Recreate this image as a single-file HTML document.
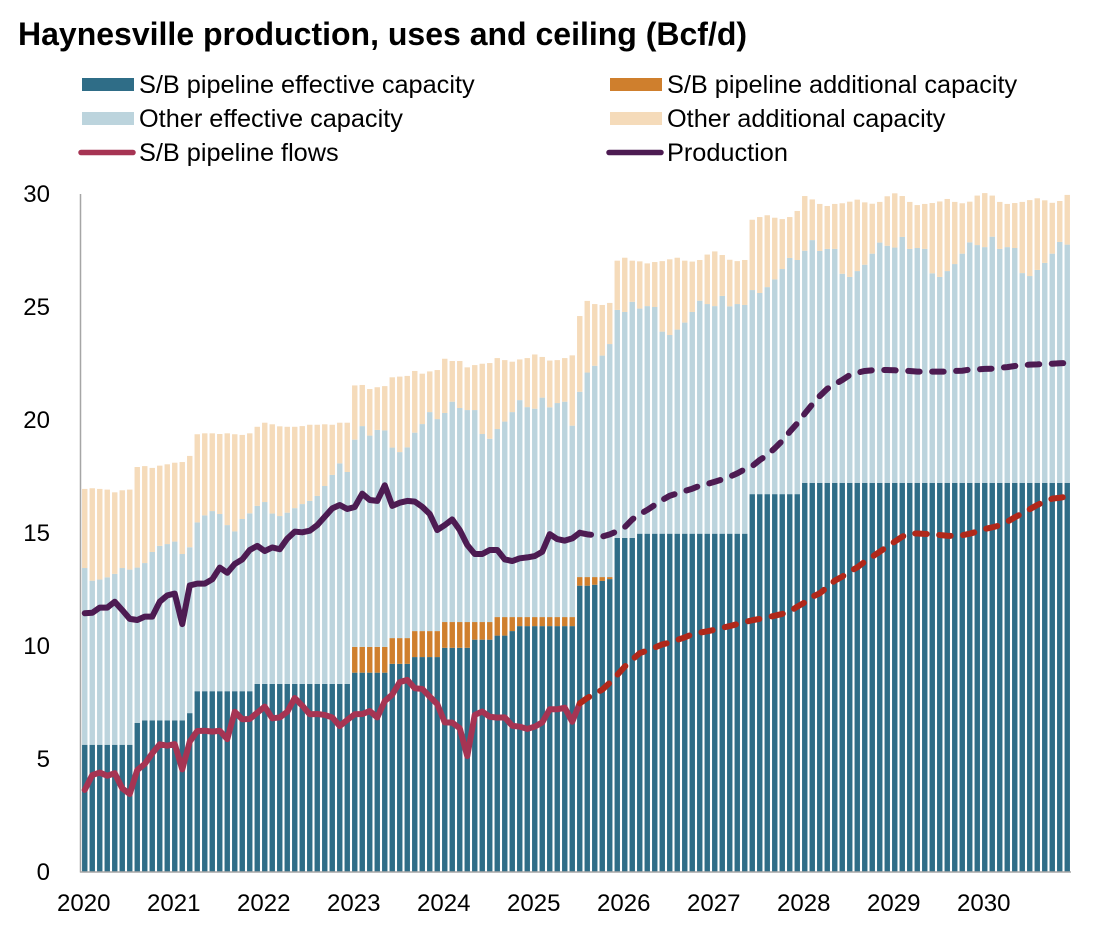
<!DOCTYPE html>
<html lang="en">
<head>
<meta charset="utf-8">
<title>Haynesville production, uses and ceiling</title>
<style>
html,body{margin:0;padding:0;background:#fff;}
svg{display:block;font-family:"Liberation Sans",Arial,sans-serif;fill:#000;}
</style>
</head>
<body>
<svg id="chart" width="1106" height="928" viewBox="0 0 1106 928" xmlns="http://www.w3.org/2000/svg">
  <text x="18" y="45" font-size="32" font-weight="bold">Haynesville production, uses and ceiling (Bcf/d)</text>

  <g font-size="25.3">
    <g>
      <rect x="82" y="78" width="52" height="13" fill="#2F6D87"/>
      <text x="139" y="93">S/B pipeline effective capacity</text>
    </g>
    <g>
      <rect x="82" y="112" width="52" height="13" fill="#BCD4DD"/>
      <text x="139" y="127">Other effective capacity</text>
    </g>
    <g>
      <line x1="81" y1="152.5" x2="133" y2="152.5" stroke="#A63453" stroke-width="5.5" stroke-linecap="round"/>
      <text x="139" y="161">S/B pipeline flows</text>
    </g>
    <g>
      <rect x="610" y="78" width="52" height="13" fill="#CF7F2D"/>
      <text x="667" y="93">S/B pipeline additional capacity</text>
    </g>
    <g>
      <rect x="610" y="112" width="52" height="13" fill="#F5DBBA"/>
      <text x="667" y="127">Other additional capacity</text>
    </g>
    <g>
      <line x1="609" y1="152.5" x2="661" y2="152.5" stroke="#4D1B52" stroke-width="5.5" stroke-linecap="round"/>
      <text x="667" y="161">Production</text>
    </g>
  </g>

  <g id="bars"></g>
  <g id="axes" font-size="24"></g>
  <g id="lines" fill="none"></g>
</svg>

<script>
// Category labels and tick values
const yearLabels = ["2020","2021","2022","2023","2024","2025","2026","2027","2028","2029","2030"];
const yTickValues = [0,5,10,15,20,25,30];
const monthsPerYear = 12;
const forecastStartMonth = 66;

// Stack levels (Bcf/d, monthly, cumulative top of each layer)
const sbEffectiveTop = [
5.63,5.63,5.63,5.63,5.63,5.63,5.63,6.6,6.71,6.71,6.71,6.71,
6.71,6.71,7.03,8,8,8,8,8,8,8,8,8.32,
8.32,8.32,8.32,8.32,8.32,8.32,8.32,8.32,8.32,8.32,8.32,8.32,
8.82,8.82,8.82,8.82,8.82,9.21,9.21,9.21,9.51,9.51,9.51,9.51,
9.92,9.92,9.92,9.92,10.28,10.28,10.28,10.46,10.46,10.66,10.88,10.88,
10.88,10.88,10.88,10.88,10.88,10.88,12.67,12.67,12.71,12.88,12.96,14.78,
14.78,14.78,14.97,14.97,14.97,14.97,14.97,14.97,14.97,14.97,14.97,14.97,
14.97,14.97,14.97,14.97,14.97,16.72,16.72,16.72,16.72,16.72,16.72,16.72,
17.22,17.22,17.22,17.22,17.22,17.22,17.22,17.22,17.22,17.22,17.22,17.22,
17.22,17.22,17.22,17.22,17.22,17.22,17.22,17.22,17.22,17.22,17.22,17.22,
17.22,17.22,17.22,17.22,17.22,17.22,17.22,17.22,17.22,17.22,17.22,17.22
];
const sbAdditionalTop = [
5.63,5.63,5.63,5.63,5.63,5.63,5.63,6.6,6.71,6.71,6.71,6.71,
6.71,6.71,7.03,8,8,8,8,8,8,8,8,8.32,
8.32,8.32,8.32,8.32,8.32,8.32,8.32,8.32,8.32,8.32,8.32,8.32,
9.96,9.96,9.96,9.96,9.96,10.35,10.35,10.35,10.66,10.66,10.66,10.66,
11.06,11.06,11.06,11.06,11.06,11.06,11.06,11.28,11.28,11.28,11.28,11.28,
11.28,11.28,11.28,11.28,11.28,11.28,13.05,13.05,13.05,13.05,13.05,14.78,
14.78,14.78,14.97,14.97,14.97,14.97,14.97,14.97,14.97,14.97,14.97,14.97,
14.97,14.97,14.97,14.97,14.97,16.72,16.72,16.72,16.72,16.72,16.72,16.72,
17.22,17.22,17.22,17.22,17.22,17.22,17.22,17.22,17.22,17.22,17.22,17.22,
17.22,17.22,17.22,17.22,17.22,17.22,17.22,17.22,17.22,17.22,17.22,17.22,
17.22,17.22,17.22,17.22,17.22,17.22,17.22,17.22,17.22,17.22,17.22,17.22
];
const otherEffectiveTop = [
13.45,12.89,12.94,13.04,13.19,13.45,13.38,13.47,13.67,14.16,14.43,14.51,
14.62,14.07,14.37,15.47,15.78,15.97,15.84,15.35,15.07,15.62,15.87,16.2,
16.37,15.86,15.75,15.9,16.1,16.28,16.42,16.64,17.08,17.57,18.08,17.7,
19.13,19.73,19.31,19.56,19.54,18.78,18.58,18.79,19.44,19.82,20.35,20.04,
20.31,20.81,20.53,20.44,20.44,19.38,19.17,19.6,19.93,20.35,20.88,20.57,
20.5,20.99,20.56,20.75,20.81,19.75,21.25,22.1,22.4,22.85,23.36,24.87,
24.78,25.23,24.93,25.04,25,23.91,23.76,24,24.31,24.78,25.28,25.13,
25.04,25.49,25.03,25.13,25.09,25.75,25.62,25.88,26.22,26.68,27.17,27.08,
27.49,27.96,27.48,27.57,27.57,26.47,26.33,26.59,26.87,27.36,27.85,27.71,
27.63,28.1,27.57,27.61,27.57,26.49,26.33,26.59,26.9,27.36,27.86,27.74,
27.65,28.11,27.57,27.65,27.61,26.5,26.37,26.64,26.95,27.36,27.88,27.76
];
const otherAdditionalTop = [
16.95,16.98,16.95,16.92,16.8,16.89,16.92,17.92,17.96,17.88,17.98,18.04,
18.11,18.14,18.41,19.37,19.41,19.41,19.38,19.41,19.37,19.34,19.41,19.7,
19.88,19.81,19.72,19.7,19.7,19.73,19.79,19.79,19.81,19.79,19.88,19.88,
21.53,21.55,21.37,21.45,21.5,21.89,21.92,21.95,22.17,22.05,22.15,22.21,
22.71,22.61,22.61,22.33,22.43,22.49,22.52,22.74,22.65,22.58,22.68,22.74,
22.9,22.79,22.63,22.65,22.74,22.86,24.6,25.27,25.13,25.09,25.18,27.05,
27.18,27.05,27.02,26.93,26.99,27.03,27.11,27.18,27.05,27.01,27.08,27.32,
27.46,27.3,27.09,27.03,27.08,28.86,28.98,29.06,28.95,28.89,28.98,29.25,
29.91,29.76,29.56,29.47,29.56,29.59,29.66,29.75,29.63,29.57,29.65,29.9,
30.03,29.91,29.65,29.51,29.56,29.6,29.67,29.78,29.65,29.59,29.66,29.93,
30.04,29.93,29.65,29.56,29.6,29.65,29.73,29.81,29.72,29.61,29.69,29.96
];

// Line series (Bcf/d, monthly)
const productionValues = [
11.45,11.47,11.7,11.7,11.96,11.59,11.2,11.15,11.3,11.3,11.96,12.24,
12.32,10.97,12.68,12.76,12.76,12.95,13.47,13.24,13.63,13.83,14.25,14.43,
14.2,14.36,14.28,14.75,15.06,15.03,15.1,15.35,15.72,16.09,16.24,16.06,
16.15,16.74,16.46,16.42,17.11,16.2,16.34,16.42,16.39,16.16,15.84,15.13,
15.35,15.6,15.13,14.47,14.07,14.07,14.25,14.25,13.83,13.76,13.88,13.92,
13.98,14.17,14.95,14.73,14.66,14.76,15.01,14.94,14.91,14.84,14.94,15.08,
15.26,15.6,15.83,16.02,16.24,16.46,16.65,16.75,16.86,16.96,17.09,17.17,
17.27,17.37,17.49,17.64,17.82,17.96,18.23,18.45,18.75,19.08,19.48,19.85,
20.28,20.69,21.06,21.38,21.58,21.77,21.99,22.09,22.17,22.2,22.21,22.21,
22.2,22.18,22.17,22.14,22.14,22.14,22.14,22.14,22.17,22.18,22.23,22.24,
22.26,22.27,22.31,22.34,22.39,22.42,22.45,22.46,22.48,22.49,22.51,22.52
];
const sbFlowValues = [
3.63,4.29,4.4,4.26,4.37,3.7,3.45,4.51,4.78,5.25,5.65,5.59,
5.66,4.54,5.77,6.24,6.25,6.21,6.25,5.88,7.09,6.76,6.77,7.05,
7.32,6.8,6.84,7.09,7.7,7.36,6.98,6.99,6.95,6.84,6.46,6.73,
6.98,6.99,7.12,6.84,7.56,7.85,8.4,8.5,8.13,8.1,7.76,7.43,
6.62,6.61,6.36,5.13,6.95,7.1,6.87,6.83,6.84,6.47,6.43,6.33,
6.43,6.62,7.2,7.2,7.27,6.65,7.46,7.7,7.88,8.07,8.37,8.72,
9.09,9.4,9.68,9.8,9.93,10.07,10.15,10.27,10.38,10.52,10.59,10.65,
10.72,10.81,10.88,10.97,11.06,11.14,11.2,11.27,11.34,11.42,11.52,11.74,
11.93,12.18,12.33,12.6,12.89,13.07,13.29,13.48,13.73,13.95,14.17,14.4,
14.62,14.84,14.98,14.98,14.96,14.94,14.91,14.88,14.87,14.9,14.97,15.06,
15.18,15.25,15.34,15.5,15.69,15.87,16.05,16.24,16.39,16.52,16.56,16.61
];

const SVG_NS = "http://www.w3.org/2000/svg";
const plotLeft = 81, plotRight = 1071, plotTop = 194, plotBottom = 872, yMax = 30;
const monthCount = sbEffectiveTop.length;
const monthStep = (plotRight - plotLeft) / monthCount;
const barWidth = 5.4;
const lineWidth = 6;

function xScale(i) { return plotLeft + monthStep * (i + 0.5); }
function yScale(v) { return plotBottom - (v / yMax) * (plotBottom - plotTop); }
function make(tag) { return document.createElementNS(SVG_NS, tag); }

// Bars
const barsGroup = document.getElementById("bars");
const layerNames = ["bar-sb-effective","bar-sb-additional","bar-other-effective","bar-other-additional"];
const layerColors = ["#2F6D87","#CF7F2D","#BCD4DD","#F5DBBA"];
const layers = [sbEffectiveTop, sbAdditionalTop, otherEffectiveTop, otherAdditionalTop];
for (let i = 0; i < monthCount; i++) {
  let previous = 0;
  for (let k = 0; k < layers.length; k++) {
    const top = layers[k][i];
    if (top > previous) {
      const el = make("rect");
      
      
      el.setAttribute("x", (xScale(i) - barWidth / 2).toFixed(2));
      el.setAttribute("y", yScale(top).toFixed(2));
      el.setAttribute("width", barWidth);
      el.setAttribute("height", (yScale(previous) - yScale(top)).toFixed(2));
      el.setAttribute("fill", layerColors[k]);
      barsGroup.appendChild(el);
      previous = top;
    }
  }
}

// Axes
const axesGroup = document.getElementById("axes");
const yAxisLine = make("line");


yAxisLine.setAttribute("x1", plotLeft - 0.5);
yAxisLine.setAttribute("x2", plotLeft - 0.5);
yAxisLine.setAttribute("y1", plotTop);
yAxisLine.setAttribute("y2", plotBottom + 0.5);
yAxisLine.setAttribute("stroke", "#A6A6A6");
yAxisLine.setAttribute("stroke-width", "1.5");
axesGroup.appendChild(yAxisLine);

const xAxisLine = make("line");


xAxisLine.setAttribute("x1", plotLeft - 1);
xAxisLine.setAttribute("x2", plotRight);
xAxisLine.setAttribute("y1", plotBottom);
xAxisLine.setAttribute("y2", plotBottom);
xAxisLine.setAttribute("stroke", "#A6A6A6");
xAxisLine.setAttribute("stroke-width", "1.5");
axesGroup.appendChild(xAxisLine);

yTickValues.forEach(function (v) {
  const el = make("text");
  
  
  el.setAttribute("x", 50);
  el.setAttribute("y", yScale(v) + 8);
  el.setAttribute("text-anchor", "end");
  el.textContent = String(v);
  axesGroup.appendChild(el);
});

yearLabels.forEach(function (label, idx) {
  const el = make("text");
  
  
  el.setAttribute("x", xScale(idx * monthsPerYear) - 1);
  el.setAttribute("y", 911);
  el.setAttribute("text-anchor", "middle");
  el.textContent = label;
  axesGroup.appendChild(el);
});

// Lines
const linesGroup = document.getElementById("lines");
function pathFor(values, from, to) {
  let d = "";
  for (let i = from; i <= to; i++) {
    d += (i === from ? "M" : "L") + xScale(i).toFixed(2) + " " + yScale(values[i]).toFixed(2);
  }
  return d;
}

const flowSolid = make("path");


flowSolid.setAttribute("d", pathFor(sbFlowValues, 0, forecastStartMonth));
flowSolid.setAttribute("stroke", "#A63453");
flowSolid.setAttribute("stroke-width", lineWidth);
flowSolid.setAttribute("stroke-linejoin", "round");
flowSolid.setAttribute("stroke-linecap", "round");
linesGroup.appendChild(flowSolid);

const flowDashed = make("path");


flowDashed.setAttribute("d", pathFor(sbFlowValues, forecastStartMonth, monthCount - 1));
flowDashed.setAttribute("stroke", "#B0281A");
flowDashed.setAttribute("stroke-width", lineWidth);
flowDashed.setAttribute("stroke-linejoin", "round");
flowDashed.setAttribute("stroke-linecap", "round");
flowDashed.setAttribute("stroke-dasharray", "11.5 12.5");
linesGroup.appendChild(flowDashed);

const prodSolid = make("path");


prodSolid.setAttribute("d", pathFor(productionValues, 0, forecastStartMonth));
prodSolid.setAttribute("stroke", "#4D1B52");
prodSolid.setAttribute("stroke-width", lineWidth);
prodSolid.setAttribute("stroke-linejoin", "round");
prodSolid.setAttribute("stroke-linecap", "round");
linesGroup.appendChild(prodSolid);

const prodDashed = make("path");


prodDashed.setAttribute("d", pathFor(productionValues, forecastStartMonth, monthCount - 1));
prodDashed.setAttribute("stroke", "#4D1B52");
prodDashed.setAttribute("stroke-width", lineWidth);
prodDashed.setAttribute("stroke-linejoin", "round");
prodDashed.setAttribute("stroke-linecap", "round");
prodDashed.setAttribute("stroke-dasharray", "11.5 12.5");
linesGroup.appendChild(prodDashed);
</script>
</body>
</html>
